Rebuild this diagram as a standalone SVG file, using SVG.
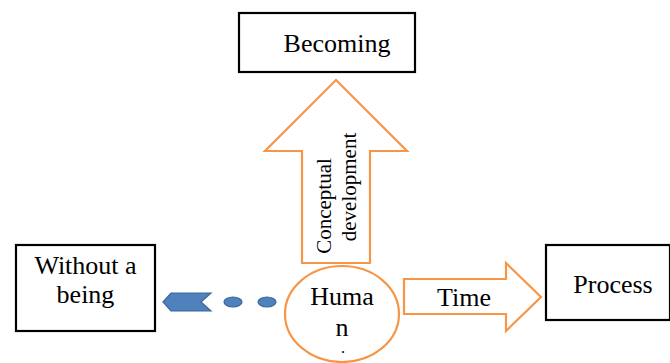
<svg xmlns="http://www.w3.org/2000/svg" width="670" height="363" viewBox="0 0 670 363">
<style>
.box{fill:#fff;stroke:#000;stroke-width:2.2}
.arr{fill:#fff;stroke:#f79646;stroke-width:2.2;stroke-linejoin:miter}
text{font-family:'Liberation Serif','DejaVu Serif',serif;fill:#000;font-size:26px}
.rot{font-size:21px}
.blue{fill:#4f81bd;stroke:#3b679c;stroke-width:1.2}
</style>
<rect width="670" height="363" fill="#fff"/>
<g id="connectors">
  <g id="arrow-up">
    <polygon class="arr" points="336,80 407,151 370,151 370,263 302,263 302,151 265,151"/>
    <text class="rot" transform="translate(331,206) rotate(-90)" text-anchor="middle">Conceptual</text>
    <text class="rot" transform="translate(356,187) rotate(-90)" text-anchor="middle">development</text>
  </g>
  <g id="arrow-right">
    <polygon class="arr" points="404,279 506,279 506,263 541,297 506,331 506,314 404,314"/>
    <text x="464" y="306" text-anchor="middle">Time</text>
  </g>
  <g id="arrow-left">
    <polygon class="blue" points="163,302 171,293 211,293 201,302 211,311 171,311"/>
    <ellipse class="blue" cx="233" cy="302" rx="9" ry="5"/>
    <ellipse class="blue" cx="267" cy="302" rx="9" ry="5"/>
  </g>
</g>
<g id="becoming">
  <rect class="box" x="239" y="13" width="176" height="59"/>
  <text x="337" y="52" text-anchor="middle">Becoming</text>
</g>
<g id="without">
  <rect class="box" x="16" y="245" width="139" height="86"/>
  <text x="85.5" y="274" text-anchor="middle">Without a</text>
  <text x="85.5" y="303" text-anchor="middle">being</text>
</g>
<g id="process">
  <rect class="box" x="546" y="245" width="124" height="75"/>
  <text x="613" y="293" text-anchor="middle">Process</text>
</g>
<g id="human">
  <ellipse cx="342" cy="314" rx="57" ry="48" fill="#fff" stroke="#f79646" stroke-width="2.2"/>
  <text x="342" y="305" text-anchor="middle">Huma</text>
  <text x="342" y="336" text-anchor="middle">n</text>
  <text x="343" y="353" text-anchor="middle" style="font-size:12px;font-weight:bold">.</text>
</g>
</svg>
